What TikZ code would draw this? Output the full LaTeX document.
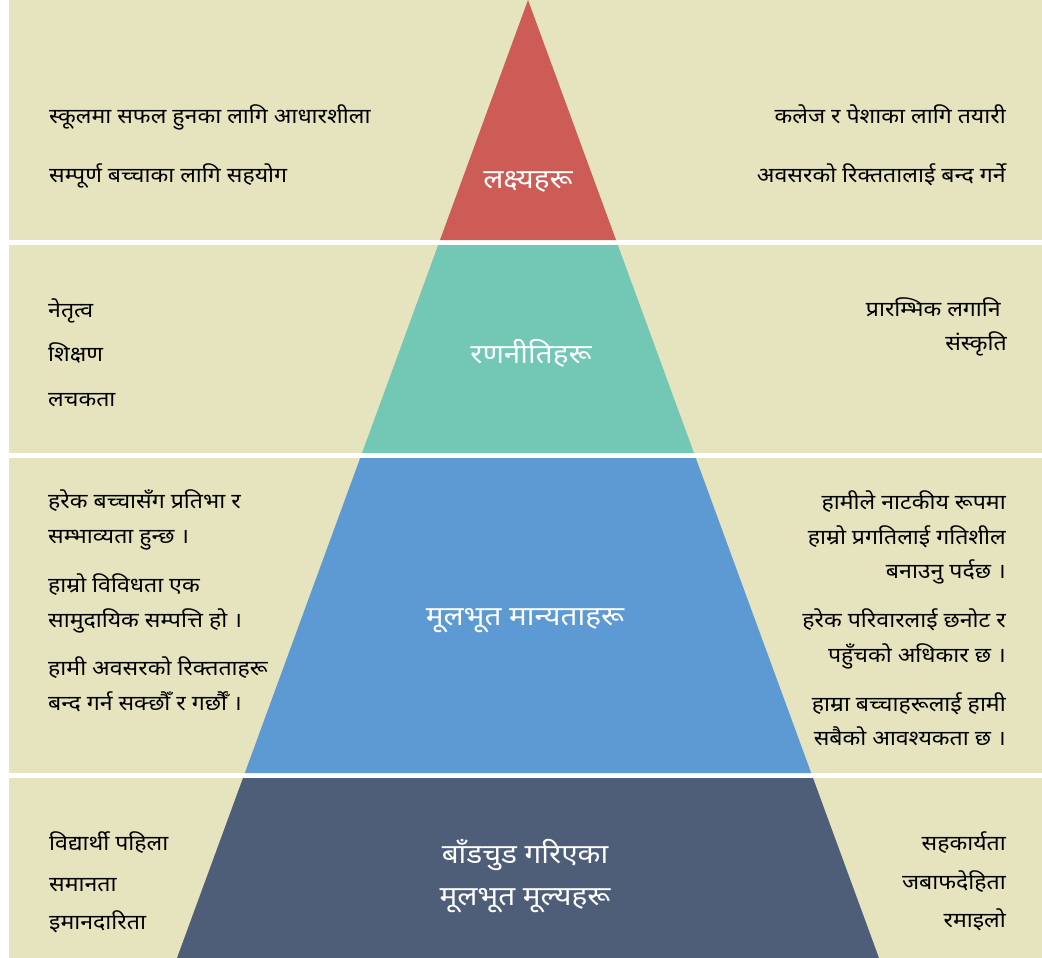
\documentclass[tikz,border=0pt]{standalone}
\usepackage{fontspec}
\newfontfamily\dev[Script=Devanagari,FakeStretch=1.1]{Noto Sans}
\definecolor{bandbg}{HTML}{E5E4BF}
\definecolor{cred}{HTML}{CD5B56}
\definecolor{cteal}{HTML}{72C7B5}
\definecolor{cblue}{HTML}{5D9AD3}
\definecolor{cslate}{HTML}{4E5E78}
\tikzset{
  lefttext/.style={anchor=base west,inner sep=0pt,font=\dev\fontsize{21}{24}\selectfont,text=black},
  righttext/.style={anchor=base east,inner sep=0pt,font=\dev\fontsize{21}{24}\selectfont,text=black},
  midtext/.style={anchor=base,inner sep=0pt,font=\dev\fontsize{27}{30}\selectfont,text=white,align=center},
  band/.style={fill=bandbg,draw=none},
}
\begin{document}
\begin{tikzpicture}[x=1pt,y=-1pt]
\useasboundingbox (0,0) rectangle (1042,958);
\fill[white] (0,0) rectangle (1042,958);
% bands
\fill[band] (9,0) rectangle (1042,240);
\fill[band] (9,245) rectangle (1042,453);
\fill[band] (9,458) rectangle (1042,773);
\fill[band] (9,778) rectangle (1042,958);
% pyramid pieces
\fill[cred] (528,0) -- (616,240) -- (440,240) -- cycle;
\fill[cteal] (438.2,245) -- (617.8,245) -- (694,453) -- (362,453) -- cycle;
\fill[cblue] (360.2,458) -- (695.8,458) -- (811.2,773) -- (244.8,773) -- cycle;
\fill[cslate] (243,778) -- (813,778) -- (879,958) -- (177,958) -- cycle;
% band 1
\node[lefttext] (l1a) at (49,124) {स्कूलमा सफल हुनका लागि आधारशीला};
\node[lefttext] (l1b) at (49,182) {सम्पूर्ण बच्चाका लागि सहयोग};
\node[righttext] (r1a) at (1006,124) {कलेज र पेशाका लागि तयारी};
\node[righttext] (r1b) at (1006,182) {अवसरको रिक्ततालाई बन्द गर्ने};
\node[midtext] (m1) at (528,188) {लक्ष्यहरू};
% band 2
\node[lefttext] (l2a) at (48,317) {नेतृत्व};
\node[lefttext] (l2b) at (48,361) {शिक्षण};
\node[lefttext] (l2c) at (48,406) {लचकता};
\node[righttext] (r2a) at (1001,316) {प्रारम्भिक लगानि};
\node[righttext] (r2b) at (1007,350) {संस्कृति};
\node[midtext] (m2) at (531,363) {रणनीतिहरू};
% band 3
\node[lefttext] (l3a) at (48,508) {हरेक बच्चासँग प्रतिभा र};
\node[lefttext] (l3b) at (48,543) {सम्भाव्यता हुन्छ ।};
\node[lefttext] (l3c) at (48,592) {हाम्रो विविधता एक};
\node[lefttext] (l3d) at (48,627) {सामुदायिक सम्पत्ति हो ।};
\node[lefttext] (l3e) at (48,675) {हामी अवसरको रिक्तताहरू};
\node[lefttext] (l3f) at (48,710) {बन्द गर्न सक्छौँ र गर्छौँ ।};
\node[righttext] (r3a) at (1006,509) {हामीले नाटकीय रूपमा};
\node[righttext] (r3b) at (1006,544) {हाम्रो प्रगतिलाई गतिशील};
\node[righttext] (r3c) at (1006,578) {बनाउनु पर्दछ ।};
\node[righttext] (r3d) at (1006,627) {हरेक परिवारलाई छनोट र};
\node[righttext] (r3e) at (1006,662) {पहुँचको अधिकार छ ।};
\node[righttext] (r3f) at (1006,711) {हाम्रा बच्चाहरूलाई हामी};
\node[righttext] (r3g) at (1006,745) {सबैको आवश्यकता छ ।};
\node[midtext] (m3) at (525,625) {मूलभूत मान्यताहरू};
% band 4
\node[lefttext] (l4a) at (49,850) {विद्यार्थी पहिला};
\node[lefttext] (l4b) at (49,891) {समानता};
\node[lefttext] (l4c) at (49,929) {इमानदारिता};
\node[righttext] (r4a) at (1006,850) {सहकार्यता};
\node[righttext] (r4b) at (1006,889) {जबाफदेहिता};
\node[righttext] (r4c) at (1006,927) {रमाइलो};
\node[midtext] (m4a) at (525,863) {बाँडचुड गरिएका};
\node[midtext] (m4b) at (525,905) {मूलभूत मूल्यहरू};
\end{tikzpicture}
\end{document}
